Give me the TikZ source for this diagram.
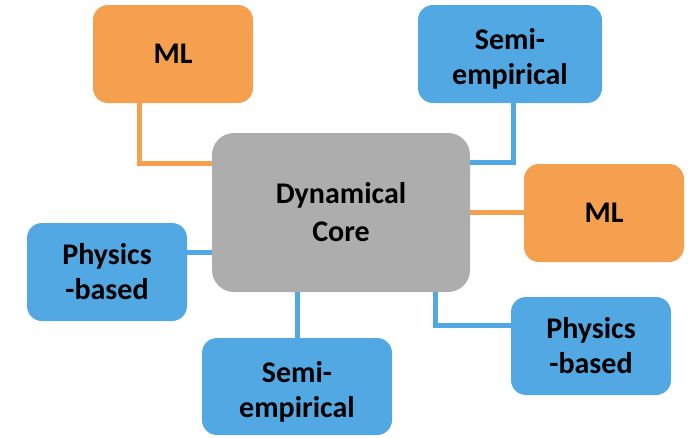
\documentclass[tikz,border=0pt]{standalone}
\usepackage{fontspec}
\setmainfont{Carlito}
\definecolor{mlorange}{HTML}{F5A04F}
\definecolor{phblue}{HTML}{51A8E3}
\definecolor{coregray}{HTML}{ADADAD}
\tikzset{
  box/.style={rounded corners=15pt, inner sep=0pt, align=center,
    font=\fontsize{30}{35}\selectfont\bfseries, text=black,
    minimum width=160pt, minimum height=98pt},
  mlbox/.style={box, fill=mlorange},
  bluebox/.style={box, fill=phblue},
  corebox/.style={box, fill=coregray, rounded corners=22pt,
    font=\fontsize{30}{38}\selectfont\bfseries,
    minimum width=258pt, minimum height=159pt},
  oline/.style={draw=mlorange, line width=5pt},
  bline/.style={draw=phblue, line width=5pt}
}
% taller first line keeps the two-line text centred like the others
\newcommand{\firstline}{\rule{0pt}{31pt}}
\begin{document}
\begin{tikzpicture}[x=1pt, y=-1pt]
  \useasboundingbox (0,0) rectangle (692,437);

  % box centres
  \coordinate (cC) at (341,212.5);
  \coordinate (m1) at (173,54);
  \coordinate (s1) at (510,54);
  \coordinate (m2) at (604,213);
  \coordinate (p1) at (107,272);
  \coordinate (s2) at (297,386.5);
  \coordinate (p2) at (591,346);

  % boxes
  \node[corebox] (core) at (cC) {Dynamical\\Core};
  \node[mlbox] (ml1) at (m1) {ML};
  \node[bluebox, minimum width=184pt] (semi1) at (s1) {\firstline Semi-\\empirical};
  \node[mlbox] (ml2) at (m2) {ML};
  \node[bluebox] (phys1) at (p1) {Physics\\-based};
  \node[bluebox, minimum width=190pt, minimum height=97pt] (semi2) at (s2) {\firstline Semi-\\empirical};
  \node[bluebox] (phys2) at (p2) {Physics\\-based};

  % links to the core
  \draw[oline] ([xshift=-34pt]ml1.south) |- ([yshift=49.5pt]core.west);
  \draw[bline] ([xshift=3pt]semi1.south) |- ([yshift=50.5pt]core.east);
  \draw[oline] (core.east) -- (core.east -| ml2.west);
  \draw[bline] ([yshift=20pt]phys1.east) -- ([yshift=20pt]phys1.east -| core.west);
  \draw[bline] (semi2.north) -- (semi2.north |- core.south);
  \draw[bline] ([xshift=94pt]core.south) |- ([yshift=21pt]phys2.west);
\end{tikzpicture}
\end{document}
